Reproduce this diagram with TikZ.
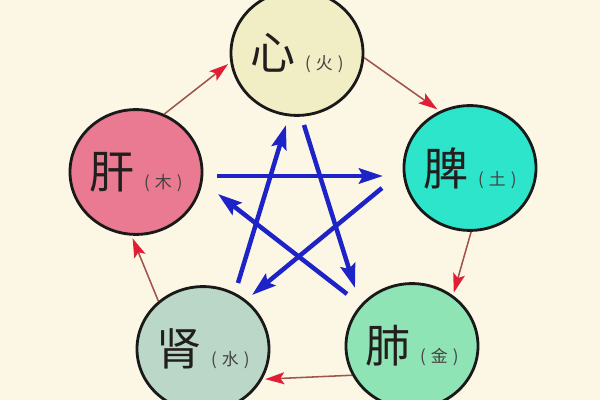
\documentclass[tikz,border=0pt]{standalone}
\usepackage{fontspec}
\newfontfamily\cjk{Noto Sans CJK SC}
\usetikzlibrary{arrows.meta,shapes.geometric}
\definecolor{bg}{RGB}{252,247,228}
\definecolor{huo}{RGB}{241,237,196}
\definecolor{tu}{RGB}{45,229,203}
\definecolor{jin}{RGB}{142,228,181}
\definecolor{shui}{RGB}{186,215,200}
\definecolor{mu}{RGB}{233,122,145}
\definecolor{shengline}{RGB}{160,85,75}
\definecolor{shenghead}{RGB}{226,30,55}
\definecolor{keblue}{RGB}{30,35,200}
\definecolor{ink}{RGB}{35,30,30}
\definecolor{paren}{RGB}{70,65,65}
\newcommand{\zang}[2]{{\fontsize{32}{32}\selectfont #1}\hspace{7pt}{\fontsize{12}{12}\selectfont\color{paren}(\hspace{0.3em}#2\hspace{0.3em})}}
\begin{document}
\begin{tikzpicture}[x=0.025cm,y=-0.025cm,
    organ/.style={ellipse,draw=black!90,line width=2pt,minimum width=3.3cm,minimum height=3.12cm,inner sep=0pt,font=\cjk,text=ink},
    sheng/.style={draw=shengline,line width=1.1pt,-{Stealth[length=0.48cm,width=0.3cm,inset=0.1cm,color=shenghead]},shorten >=2pt},
    ke/.style={draw=keblue,line width=3.2pt,-{Stealth[length=0.6cm,width=0.38cm,inset=0.1cm]}}]
            \useasboundingbox (0,0) rectangle (600,400);
            \clip (0,0) rectangle (600,400);
            \fill[bg] (0,0) rectangle (600,400);
            \node[organ,fill=huo] (xin) at (297,53) {\zang{心}{火}};
            \node[organ,fill=tu] (pi) at (470,168) {\zang{脾}{土}};
            \node[organ,fill=jin] (fei) at (412,346) {\zang{肺}{金}};
            \node[organ,fill=shui] (shen) at (203,349) {\zang{肾}{水}};
            \node[organ,fill=mu] (gan) at (136,172) {\zang{肝}{木}};
            \draw[sheng] (gan.64) -- (xin.188);
            \draw[sheng] (xin.356) -- (pi.118);
            \draw[sheng] (pi.271) -- (fei.51);
            \draw[sheng] (fei.206) -- (shen.333);
            \draw[sheng] (shen.133) -- (gan.266);
            \coordinate (K1) at (217,176);
            \coordinate (K2) at (383,176);
            \coordinate (K3) at (382,188);
            \coordinate (K4) at (252,295);
            \coordinate (K5) at (238,283);
            \coordinate (K6) at (286,125);
            \coordinate (K7) at (304,125);
            \coordinate (K8) at (355,288);
            \coordinate (K9) at (347,294);
            \coordinate (K10) at (218,194);
            \draw[ke] (K1) -- (K2);
            \draw[ke] (K3) -- (K4);
            \draw[ke] (K5) -- (K6);
            \draw[ke] (K7) -- (K8);
            \draw[ke] (K9) -- (K10);
        \end{tikzpicture}
\end{document}
